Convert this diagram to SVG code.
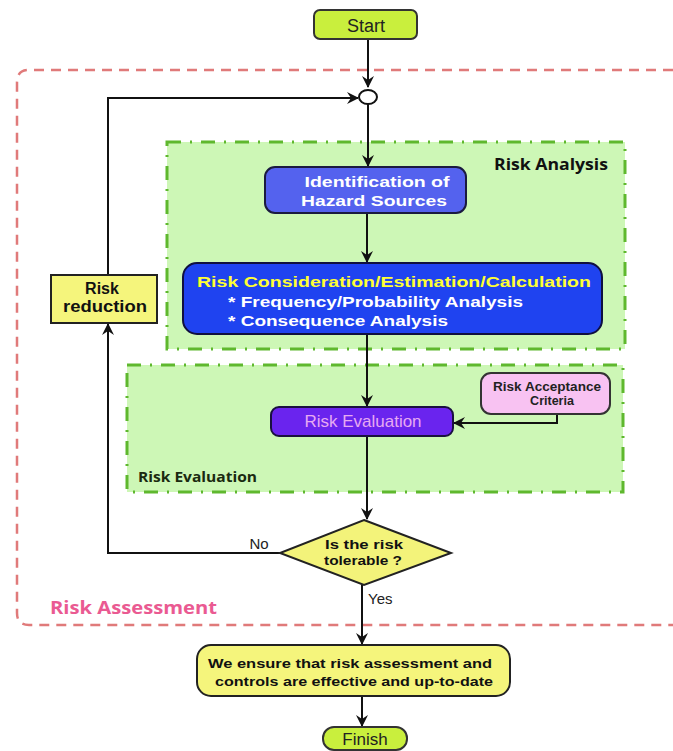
<svg xmlns="http://www.w3.org/2000/svg" width="673" height="751" viewBox="0 0 673 751">
<defs>
<marker id="arr" viewBox="0 0 12 12" refX="11" refY="6" markerWidth="12" markerHeight="12" markerUnits="userSpaceOnUse" orient="auto">
<path d="M0,0 L12,6 L0,12 L4,6 z" fill="#111"/>
</marker>
<style>
.b{font-family:"Liberation Sans",Arial,sans-serif;font-weight:bold}
.o{font-family:"Open Sans","Liberation Sans",sans-serif;font-weight:bold}
.n{font-family:"Liberation Sans",Arial,sans-serif}
.c{stroke:#111;stroke-width:2;fill:none}
.zone{fill:#cdf7b6;stroke:#5fb82e;stroke-width:3;stroke-dasharray:14 9 2 9}
</style>
</defs>
<rect width="673" height="751" fill="#fff"/>

<g id="risk-assessment-zone">
<path d="M690,70 L29,70 Q17,70 17,82 L17,613 Q17,625 29,625 L690,625" fill="none" stroke="#e07a7a" stroke-width="2.5" stroke-dasharray="10 7"/>
<text class="o" x="50" y="614" font-size="17" fill="#ea5a92" textLength="167" lengthAdjust="spacingAndGlyphs">Risk Assessment</text>
</g>

<g id="risk-analysis-zone">
<rect class="zone" x="167" y="142" width="458" height="207"/>
<text class="o" x="494" y="170" font-size="16" fill="#111" textLength="114" lengthAdjust="spacingAndGlyphs">Risk Analysis</text>
</g>

<g id="risk-evaluation-zone">
<rect class="zone" x="127" y="365" width="496" height="127"/>
<text class="o" x="138" y="482" font-size="15" fill="#1a2a10" textLength="119" lengthAdjust="spacingAndGlyphs">Risk Evaluation</text>
</g>

<g id="connectors">
<path class="c" d="M368,39 L368,87" marker-end="url(#arr)"/>
<path class="c" d="M368,104 L368,166" marker-end="url(#arr)"/>
<path class="c" d="M367,213 L367,262" marker-end="url(#arr)"/>
<path class="c" d="M367,334 L367,406" marker-end="url(#arr)"/>
<path class="c" d="M557,414 L557,423 L454,423" marker-end="url(#arr)"/>
<path class="c" d="M367,436 L367,519" marker-end="url(#arr)"/>
<path class="c" d="M280,553 L108,553 L108,324" marker-end="url(#arr)"/>
<path class="c" d="M108,275 L108,98 L358,98" marker-end="url(#arr)"/>
<path class="c" d="M362,585 L362,644" marker-end="url(#arr)"/>
<path class="c" d="M362,696 L362,726" marker-end="url(#arr)"/>
<text class="n" x="259" y="549" font-size="15" fill="#222" text-anchor="middle">No</text>
<text class="n" x="368" y="604" font-size="15" fill="#222">Yes</text>
</g>

<g id="start">
<rect x="314" y="10" width="103" height="29" rx="6" fill="#c9ef3d" stroke="#333" stroke-width="2"/>
<text class="n" x="366" y="32" font-size="18" fill="#222" text-anchor="middle">Start</text>
</g>

<g id="junction">
<ellipse cx="368" cy="97" rx="9" ry="7" fill="#fff" stroke="#111" stroke-width="2"/>
</g>

<g id="identification">
<rect x="265" y="167" width="201" height="46" rx="10" fill="#5462ee" stroke="#1a1a40" stroke-width="2"/>
<text class="b" x="377" y="187" font-size="15" fill="#fff" text-anchor="middle" textLength="145" lengthAdjust="spacingAndGlyphs">Identification of</text>
<text class="b" x="374" y="206" font-size="15" fill="#fff" text-anchor="middle" textLength="146" lengthAdjust="spacingAndGlyphs">Hazard Sources</text>
</g>

<g id="risk-consideration">
<rect x="183" y="263" width="419" height="71" rx="14" fill="#1f43f0" stroke="#101040" stroke-width="2"/>
<text class="b" x="394" y="287" font-size="15" fill="#ffff33" text-anchor="middle" textLength="394" lengthAdjust="spacingAndGlyphs">Risk Consideration/Estimation/Calculation</text>
<text class="b" x="228" y="307" font-size="15" fill="#fff" textLength="295" lengthAdjust="spacingAndGlyphs">* Frequency/Probability Analysis</text>
<text class="b" x="228" y="326" font-size="15" fill="#fff" textLength="220" lengthAdjust="spacingAndGlyphs">* Consequence Analysis</text>
</g>

<g id="risk-evaluation">
<rect x="271" y="407" width="182" height="29" rx="8" fill="#6a24ee" stroke="#1a1040" stroke-width="2"/>
<text class="n" x="363" y="427" font-size="17" fill="#e6aaf2" text-anchor="middle">Risk Evaluation</text>
</g>

<g id="acceptance-criteria">
<rect x="481" y="373" width="129" height="41" rx="10" fill="#f8c2f2" stroke="#333" stroke-width="2"/>
<text class="b" x="547" y="391" font-size="12.5" fill="#222" text-anchor="middle" textLength="108" lengthAdjust="spacingAndGlyphs">Risk Acceptance</text>
<text class="b" x="552" y="405" font-size="12.5" fill="#222" text-anchor="middle">Criteria</text>
</g>

<g id="risk-reduction">
<rect x="51" y="275" width="106" height="48" fill="#f5f57c" stroke="#222" stroke-width="2"/>
<text class="b" x="102" y="294" font-size="16" fill="#111" text-anchor="middle">Risk</text>
<text class="b" x="105" y="312" font-size="16" fill="#111" text-anchor="middle" textLength="84" lengthAdjust="spacingAndGlyphs">reduction</text>
</g>

<g id="decision">
<polygon points="364,520 451,553 364,585 280,553" fill="#f3f37a" stroke="#222" stroke-width="2"/>
<text class="b" x="364" y="549" font-size="13" fill="#111" text-anchor="middle" textLength="78" lengthAdjust="spacingAndGlyphs">Is the risk</text>
<text class="b" x="363" y="565" font-size="13" fill="#111" text-anchor="middle" textLength="78" lengthAdjust="spacingAndGlyphs">tolerable ?</text>
</g>

<g id="ensure">
<rect x="197" y="645" width="313" height="51" rx="14" fill="#f5f57c" stroke="#222" stroke-width="2"/>
<text class="b" x="350" y="668" font-size="13" fill="#111" text-anchor="middle" textLength="284" lengthAdjust="spacingAndGlyphs">We ensure that risk assessment and</text>
<text class="b" x="354" y="686" font-size="13" fill="#111" text-anchor="middle" textLength="278" lengthAdjust="spacingAndGlyphs">controls are effective and up-to-date</text>
</g>

<g id="finish">
<rect x="323" y="727" width="84" height="23" rx="11" fill="#c9ef3d" stroke="#333" stroke-width="2"/>
<text class="n" x="365" y="745" font-size="17" fill="#222" text-anchor="middle">Finish</text>
</g>
</svg>
